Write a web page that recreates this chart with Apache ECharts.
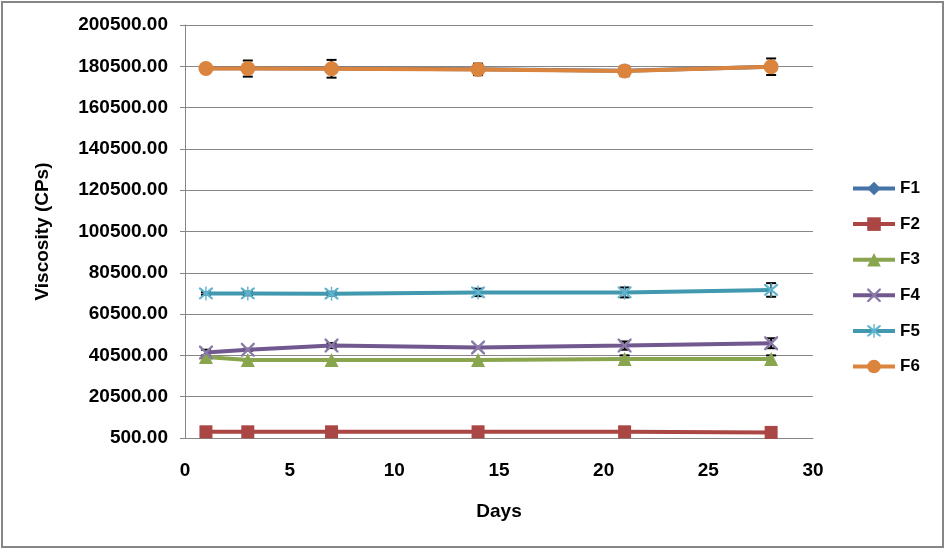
<!DOCTYPE html>
<html>
<head>
<meta charset="utf-8">
<script src="https://cdn.jsdelivr.net/npm/echarts@6/dist/echarts.min.js"></script>
<style>
  html, body { margin: 0; padding: 0; background: #fff; }
  #chart { width: 946px; height: 550px; }
</style>
</head>
<body>
<div id="chart"></div>
<script>
// ---- data ----
const days = [1, 3, 7, 14, 21, 28];
const F1 = [179600, 179500, 179400, 179100, 178400, 180300];
const F2 = [3500, 3500, 3500, 3500, 3500, 3200];
const F3 = [39700, 38300, 38300, 38300, 38700, 38700];
const F4 = [41850, 43200, 45250, 44300, 45250, 46400];
const F5 = [70500, 70500, 70400, 71000, 71000, 72200];
const F6 = [179400, 179400, 179300, 179000, 178200, 180300];
// error (+/-) values
const errF3 = [500, 300, 300, 300, 1800, 1800];
const errF4 = [1400, 500, 1200, 300, 2000, 2400];
const errF5 = [600, 900, 900, 1800, 2400, 3300];
const errF6 = [500, 3900, 4300, 2800, 2500, 4000];
const yTicks = { min: 500, max: 200500, step: 20000 };
const xTicks = { min: 0, max: 30, step: 5 };
const seriesNames = ['F1', 'F2', 'F3', 'F4', 'F5', 'F6'];
const colors = ['#4572A7', '#AA4643', '#89A54E', '#71588F', '#4198AF', '#DB843D'];

const xPath = 'path://M0,0 L1.2,0 L5,3.8 L8.8,0 L10,0 L10,1.2 L6.2,5 L10,8.8 L10,10 L8.8,10 L5,6.2 L1.2,10 L0,10 L0,8.8 L3.8,5 L0,1.2 Z';
const starPath = 'path://M0,0 L1.2,0 L5,3.8 L8.8,0 L10,0 L10,1.2 L6.2,5 L10,8.8 L10,10 L8.8,10 L5,6.2 L1.2,10 L0,10 L0,8.8 L3.8,5 L0,1.2 Z M4.5,-1 L5.5,-1 L5.5,11 L4.5,11 Z';

const font = 'Liberation Sans, Arial, sans-serif';
const chart = echarts.init(document.getElementById('chart'), null, { renderer: 'canvas' });

function pairs(vals) { return days.map((d, i) => [d, vals[i]]); }
function errData(vals, errs) { return days.map((d, i) => [d, vals[i] - errs[i], vals[i] + errs[i]]); }

function errSeries(vals, errs) {
  return {
    type: 'custom',
    z: 1,
    silent: true,
    data: errData(vals, errs),
    renderItem: function (params, api) {
      const x = api.coord([api.value(0), api.value(1)])[0];
      const lo = api.coord([api.value(0), api.value(1)])[1];
      const hi = api.coord([api.value(0), api.value(2)])[1];
      const w = 5;
      const st = { stroke: '#000', lineWidth: 2 };
      return {
        type: 'group',
        children: [
          { type: 'line', shape: { x1: x, y1: lo, x2: x, y2: hi }, style: st },
          { type: 'line', shape: { x1: x - w, y1: lo, x2: x + w, y2: lo }, style: st },
          { type: 'line', shape: { x1: x - w, y1: hi, x2: x + w, y2: hi }, style: st }
        ]
      };
    }
  };
}

function lineSeries(name, vals, idx, symbol, size, extra) {
  return Object.assign({
    name: name,
    type: 'line',
    z: 3,
    data: pairs(vals),
    symbol: symbol,
    symbolSize: size,
    showAllSymbol: true,
    lineStyle: { width: 4, color: colors[idx] },
    itemStyle: { color: colors[idx] },
    emphasis: { disabled: true },
    animation: false
  }, extra || {});
}

const option = {
  animation: false,
  color: colors,
  graphic: [{
    type: 'rect',
    shape: { x: 2, y: 2, width: 941, height: 545 },
    style: { fill: 'none', stroke: '#868686', lineWidth: 2 },
    silent: true
  }],
  grid: { left: 185, right: 133, top: 25, bottom: 112, containLabel: false },
  legend: {
    orient: 'vertical',
    left: 846,
    top: 175,
    itemWidth: 42,
    itemHeight: 17,
    itemGap: 18.6,
    data: seriesNames,
    lineStyle: { width: 4 },
    textStyle: { fontFamily: font, fontWeight: 'bold', fontSize: 17, color: '#000' }
  },
  xAxis: {
    type: 'value',
    min: xTicks.min,
    max: xTicks.max,
    interval: xTicks.step,
    name: 'Days',
    nameLocation: 'middle',
    nameGap: 64,
    nameTextStyle: { fontFamily: font, fontWeight: 'bold', fontSize: 19, color: '#000' },
    axisLine: { show: true, lineStyle: { color: '#868686', width: 1 } },
    axisTick: { show: false },
    splitLine: { show: false },
    axisLabel: { fontFamily: font, fontWeight: 'bold', fontSize: 19, color: '#000', margin: 23 }
  },
  yAxis: {
    type: 'value',
    min: yTicks.min,
    max: yTicks.max,
    interval: yTicks.step,
    name: 'Viscosity (CPs)',
    nameLocation: 'middle',
    nameGap: 133,
    nameTextStyle: { fontFamily: font, fontWeight: 'bold', fontSize: 19, color: '#000' },
    axisLine: { show: true, lineStyle: { color: '#868686', width: 1 } },
    axisTick: { show: true, length: 5, lineStyle: { color: '#868686' } },
    splitLine: { show: true, lineStyle: { color: '#868686', width: 1 } },
    axisLabel: {
      fontFamily: font, fontWeight: 'bold', fontSize: 19, color: '#000', margin: 17,
      formatter: v => v.toFixed(2)
    }
  },
  series: [
    errSeries(F3, errF3),
    errSeries(F4, errF4),
    errSeries(F5, errF5),
    errSeries(F6, errF6),
    lineSeries('F1', F1, 0, 'diamond', 14),
    lineSeries('F2', F2, 1, 'rect', 13),
    lineSeries('F3', F3, 2, 'triangle', 14),
    lineSeries('F4', F4, 3, xPath, 14, { itemStyle: { color: '#8a7aa8' } }),
    lineSeries('F5', F5, 4, starPath, 14, { itemStyle: { color: '#5fb3cf' } }),
    lineSeries('F6', F6, 5, 'circle', 15)
  ]
};
chart.setOption(option);
</script>
</body>
</html>
